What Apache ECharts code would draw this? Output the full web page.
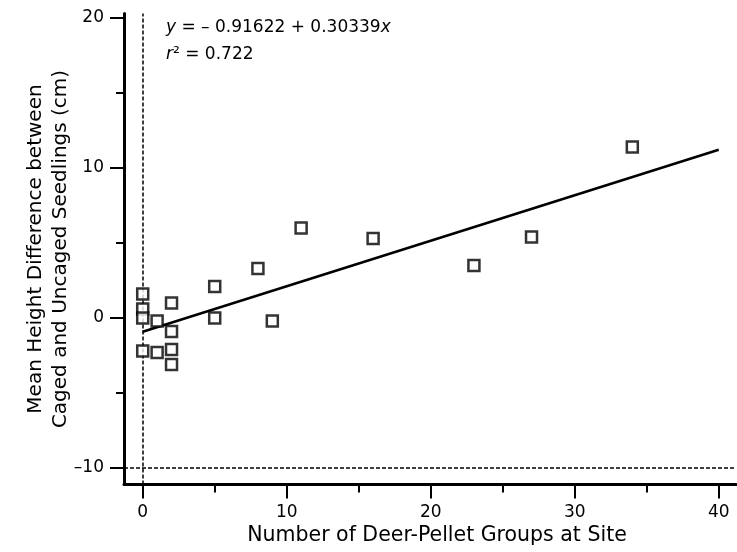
<!DOCTYPE html>
<html>
<head>
<meta charset="utf-8">
<script src="https://cdn.jsdelivr.net/npm/echarts@6/dist/echarts.min.js"></script>
<style>
  html, body { margin: 0; padding: 0; background: #fff; }
  #chart { width: 737px; height: 552px; }
</style>
</head>
<body>
<div id="chart"></div>
<script>
// deer pellet groups vs height difference
var pelletGroups = [0, 0, 0, 0, 1, 1, 2, 2, 2, 2, 5, 5, 8, 9, 11, 16, 23, 27, 34];
var heightDiff = [1.6, 0.6, 0.0, -2.2, -0.2, -2.3, 1.0, -0.9, -2.1, -3.1, 2.1, 0.0, 3.3, -0.2, 6.0, 5.3, 3.5, 5.4, 11.4];

// fitted line ends
var fitX = [0, 40];
var fitY = [-0.92, 11.22];

var xMajor = [0, 10, 20, 30, 40];
var xMinor = [5, 15, 25, 35];
var yMajor = [-10, 0, 10, 20];
var yMinor = [-5, 5, 15];

var font = '"DejaVu Sans", sans-serif';

var points = [];
for (var i = 0; i < pelletGroups.length; i++) {
  points.push([pelletGroups[i], heightDiff[i]]);
}
var fitLine = [];
for (var j = 0; j < fitX.length; j++) {
  fitLine.push([fitX[j], fitY[j]]);
}

function minusLabel(v) {
  return v < 0 ? '–' + (-v) : '' + v;
}

var myChart = echarts.init(document.getElementById('chart'));

var option = {
  backgroundColor: '#fff',
  animation: false,
  grid: { left: 124, right: 1, top: 13.5, bottom: 67.5, containLabel: false },
  xAxis: [
    {
      type: 'value', min: -1.3, max: 41.2,
      name: 'Number of Deer-Pellet Groups at Site',
      nameLocation: 'middle', nameGap: 41, nameMoveOverlap: false,
      nameTextStyle: { color: '#000', fontSize: 20.5, fontFamily: font, padding: [0, 0, 0, 14] },
      axisLine: { show: true, onZero: false, lineStyle: { color: '#000', width: 3 } },
      axisTick: { show: true, length: 14, customValues: xMajor, lineStyle: { color: '#000', width: 2 } },
      axisLabel: { customValues: xMajor, color: '#000', fontSize: 17, fontFamily: font, margin: 20 },
      splitLine: { show: false }
    },
    {
      type: 'value', min: -1.3, max: 41.2, position: 'bottom',
      axisLine: { show: false, onZero: false },
      axisTick: { show: true, length: 8, customValues: xMinor, lineStyle: { color: '#000', width: 2 } },
      axisLabel: { show: false },
      splitLine: { show: false }
    }
  ],
  yAxis: [
    {
      type: 'value', min: -11.1, max: 20.3,
      name: 'Mean Height Difference between\nCaged and Uncaged Seedlings (cm)',
      nameLocation: 'middle', nameRotate: 90, nameGap: 51, nameMoveOverlap: false,
      nameTextStyle: { color: '#000', fontSize: 20, lineHeight: 25, fontFamily: font },
      axisLine: { show: true, onZero: false, lineStyle: { color: '#000', width: 3 } },
      axisTick: { show: true, length: 14, customValues: yMajor, lineStyle: { color: '#000', width: 2 } },
      axisLabel: { customValues: yMajor, color: '#000', fontSize: 17, fontFamily: font, margin: 20, formatter: minusLabel },
      splitLine: { show: false }
    },
    {
      type: 'value', min: -11.1, max: 20.3, position: 'left',
      axisLine: { show: false, onZero: false },
      axisTick: { show: true, length: 8, customValues: yMinor, lineStyle: { color: '#000', width: 2 } },
      axisLabel: { show: false },
      splitLine: { show: false }
    }
  ],
  graphic: [
    {
      type: 'text', left: 166, top: 14.5,
      style: {
        text: '{i|y} = – 0.91622 + 0.30339{i|x}\n{i|r}² = 0.722',
        fill: '#000', fontSize: 17, lineHeight: 27, fontFamily: font,
        rich: { i: { fontStyle: 'italic', fontSize: 17, lineHeight: 27, fontFamily: font } }
      }
    }
  ],
  series: [
    {
      type: 'scatter',
      data: points,
      symbol: 'rect',
      symbolSize: 11,
      itemStyle: { color: '#fff', borderColor: '#000', borderWidth: 2.5 },
      z: 5,
      markLine: {
        silent: true,
        symbol: 'none',
        label: { show: false },
        lineStyle: { color: '#000', width: 1.5, type: [4, 2] },
        data: [{ xAxis: 0 }, { yAxis: -10 }]
      }
    },
    {
      type: 'line',
      data: fitLine,
      symbol: 'none',
      lineStyle: { color: '#000', width: 2.5 },
      z: 4
    }
  ]
};
myChart.setOption(option);
</script>
</body>
</html>
